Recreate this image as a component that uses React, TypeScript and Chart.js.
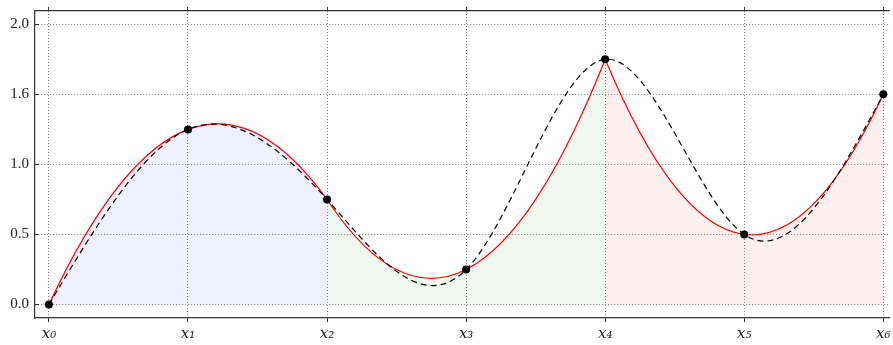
import React, { useEffect, useRef } from "react";
import { Chart, registerables } from "chart.js";

Chart.register(...registerables);

// ---- data ----
const xValues = [0, 1, 2, 3, 4, 5, 6];
const yValues = [0, 1.25, 0.75, 0.25, 1.75, 0.5, 1.5];
const xTickLabels = ["x₀", "x₁", "x₂", "x₃", "x₄", "x₅", "x₆"];
const yTickValues = [0, 0.5, 1.0, 1.5, 2.0];
const yTickLabels = ["0.0", "0.5", "1.0", "1.6", "2.0"];
// quadratic pieces: start index of each 3-point piece
const segmentStarts = [0, 2, 4];
const segmentFills = ["rgba(0,0,255,0.06)", "rgba(0,128,0,0.06)", "rgba(255,0,0,0.06)"];

const XMIN = -0.1002;
const XMAX = 6.041;
const YMIN = -0.096;
const YMAX = 2.095;

// slopes of the natural cubic spline through the points
function naturalSplineSlopes(xs: number[], ys: number[]): number[] {
  const n = xs.length;
  const h: number[] = [];
  for (let i = 0; i < n - 1; i++) h.push(xs[i + 1] - xs[i]);
  const a = new Array(n).fill(0);
  const b = new Array(n).fill(1);
  const c = new Array(n).fill(0);
  const d = new Array(n).fill(0);
  for (let i = 1; i < n - 1; i++) {
    a[i] = h[i - 1];
    b[i] = 2 * (h[i - 1] + h[i]);
    c[i] = h[i];
    d[i] = 6 * ((ys[i + 1] - ys[i]) / h[i] - (ys[i] - ys[i - 1]) / h[i - 1]);
  }
  const cp = new Array(n).fill(0);
  const dp = new Array(n).fill(0);
  cp[0] = c[0] / b[0];
  dp[0] = d[0] / b[0];
  for (let i = 1; i < n; i++) {
    const m = b[i] - a[i] * cp[i - 1];
    cp[i] = c[i] / m;
    dp[i] = (d[i] - a[i] * dp[i - 1]) / m;
  }
  const M = new Array(n).fill(0);
  M[n - 1] = dp[n - 1];
  for (let i = n - 2; i >= 0; i--) M[i] = dp[i] - cp[i] * M[i + 1];
  const s: number[] = [];
  for (let i = 0; i < n - 1; i++) s.push((ys[i + 1] - ys[i]) / h[i] - (h[i] * (2 * M[i] + M[i + 1])) / 6);
  s.push((ys[n - 1] - ys[n - 2]) / h[n - 2] + (h[n - 2] * (M[n - 2] + 2 * M[n - 1])) / 6);
  return s;
}

// slopes of the interpolating polynomial (parabola for 3 points) at its nodes
function lagrangeSlopes(xs: number[], ys: number[]): number[] {
  const n = xs.length;
  return xs.map((xk) => {
    let sum = 0;
    for (let j = 0; j < n; j++) {
      let denom = 1;
      for (let m = 0; m < n; m++) if (m !== j) denom *= xs[j] - xs[m];
      let num = 0;
      for (let k = 0; k < n; k++) {
        if (k === j) continue;
        let prod = 1;
        for (let m = 0; m < n; m++) {
          if (m === j || m === k) continue;
          prod *= xk - xs[m];
        }
        num += prod;
      }
      sum += (ys[j] * num) / denom;
    }
    return sum;
  });
}

function applyHermite(chart: any, meta: any, xs: number[], ys: number[], slopes: number[]) {
  const sx = chart.scales.x;
  const sy = chart.scales.y;
  const pts = meta.data;
  const n = xs.length;
  for (let i = 0; i < n; i++) {
    const p = pts[i];
    if (!p) continue;
    if (i > 0) {
      const h = xs[i] - xs[i - 1];
      p.cp1x = sx.getPixelForValue(xs[i] - h / 3);
      p.cp1y = sy.getPixelForValue(ys[i] - (slopes[i] * h) / 3);
    } else {
      p.cp1x = p.x;
      p.cp1y = p.y;
    }
    if (i < n - 1) {
      const h = xs[i + 1] - xs[i];
      p.cp2x = sx.getPixelForValue(xs[i] + h / 3);
      p.cp2y = sy.getPixelForValue(ys[i] + (slopes[i] * h) / 3);
    } else {
      p.cp2x = p.x;
      p.cp2y = p.y;
    }
  }
  if (meta.dataset) {
    meta.dataset._pointsUpdated = true;
    meta.dataset._path = undefined;
  }
}

export default function App() {
  const ref = useRef<HTMLCanvasElement>(null);

  useEffect(() => {
    document.body.style.margin = "0";
    const canvas = ref.current;
    if (!canvas) return;

    const pts = xValues.map((x, i) => ({ x, y: yValues[i] }));
    const splineSlopes = naturalSplineSlopes(xValues, yValues);
    const segs = segmentStarts.map((s) => ({
      xs: xValues.slice(s, s + 3),
      ys: yValues.slice(s, s + 3),
    }));
    const segSlopes = segs.map((s) => lagrangeSlopes(s.xs, s.ys));

    const applyAll = (chart: any) => {
      applyHermite(chart, chart.getDatasetMeta(1), xValues, yValues, splineSlopes);
      segs.forEach((s, k) => applyHermite(chart, chart.getDatasetMeta(2 + k), s.xs, s.ys, segSlopes[k]));
    };

    const curvePlugin = {
      id: "hermiteCurves",
      afterDatasetsUpdate(chart: any) {
        applyAll(chart);
      },
    };

    const serif = "'Liberation Serif', 'DejaVu Serif', serif";
    const gridColor = "rgba(0,0,0,0.5)";
    const axisColor = "#333";

    const fixTicks = (values: number[]) => (s: any) => {
      s.ticks = values.map((v) => ({ value: v }));
    };

    const chart = new Chart(canvas, {
      type: "line",
      data: {
        datasets: [
          {
            label: "points",
            data: pts,
            showLine: false,
            pointRadius: 4,
            pointBackgroundColor: "#000",
            pointBorderColor: "#000",
            pointBorderWidth: 0,
          } as any,
          {
            label: "spline",
            data: pts,
            borderColor: "#000",
            borderWidth: 1.2,
            borderDash: [6, 4],
            pointRadius: 0,
            tension: 0.4,
            fill: false,
          },
          ...segs.map((s, k) => ({
            label: "piece" + k,
            data: s.xs.map((x, i) => ({ x, y: s.ys[i] })),
            borderColor: "#ff0000",
            borderWidth: 1.2,
            pointRadius: 0,
            tension: 0.4,
            fill: { value: 0 },
            backgroundColor: segmentFills[k],
          })),
        ],
      },
      options: {
        responsive: false,
        animation: false,
        events: [],
        layout: { padding: 0 },
        plugins: {
          legend: { display: false },
          tooltip: { enabled: false },
          filler: { drawTime: "beforeDatasetsDraw" } as any,
        },
        scales: {
          x: {
            type: "linear",
            position: "bottom",
            min: XMIN,
            max: XMAX,
            afterBuildTicks: fixTicks(xValues),
            afterFit: (s: any) => {
              s.height = 27;
              s.paddingLeft = 0;
              s.paddingRight = 0;
            },
            ticks: {
              autoSkip: false,
              maxRotation: 0,
              padding: 3,
              color: "#222",
              font: { family: "'DejaVu Serif', serif", size: 15, style: "italic" },
              callback: (_v: any, i: number) => xTickLabels[i],
            },
            grid: {
              color: gridColor,
              lineWidth: 1,
              drawTicks: true,
              tickLength: 4,
              tickColor: axisColor,
              tickWidth: 1,
            },
            border: { display: true, color: axisColor, width: 1.2, dash: [1, 2] },
          },
          xTop: {
            type: "linear",
            position: "top",
            min: XMIN,
            max: XMAX,
            afterBuildTicks: fixTicks(xValues),
            afterFit: (s: any) => {
              s.height = 11;
              s.paddingLeft = 0;
              s.paddingRight = 0;
            },
            ticks: { display: false },
            grid: {
              drawOnChartArea: false,
              drawTicks: true,
              tickLength: 4,
              tickColor: axisColor,
              tickWidth: 1,
            },
            border: { display: true, color: axisColor, width: 1.2 },
          },
          y: {
            type: "linear",
            position: "left",
            min: YMIN,
            max: YMAX,
            afterBuildTicks: fixTicks(yTickValues),
            afterFit: (s: any) => {
              s.width = 35;
              s.paddingTop = 0;
              s.paddingBottom = 0;
            },
            ticks: {
              padding: 10,
              color: "#222",
              font: { family: serif, size: 15 },
              callback: (_v: any, i: number) => yTickLabels[i],
            },
            grid: {
              color: gridColor,
              lineWidth: 1,
              drawTicks: true,
              tickLength: -4,
              tickColor: axisColor,
              tickWidth: 1,
            },
            border: { display: true, color: axisColor, width: 1.2, dash: [1, 2] },
          },
        },
      } as any,
      plugins: [curvePlugin],
    });

    return () => chart.destroy();
  }, []);

  return (
    <div style={{ width: 893, height: 345, position: "relative" }}>
      <canvas ref={ref} width={893} height={345} style={{ display: "block", width: 893, height: 345 }} />
    </div>
  );
}
